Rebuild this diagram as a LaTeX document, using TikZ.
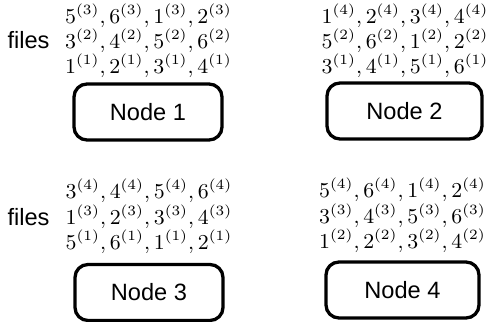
\documentclass[tikz,border=0pt]{standalone}
\usepackage{fontspec}
\newfontfamily\hv{Liberation Sans}
\begin{document}
\begin{tikzpicture}[x=0.4237pt,y=-0.4237pt,
  nodebox/.style={draw,line width=1.4pt,rounded corners=5.5pt,minimum width=#1*0.4237pt,minimum height=56*0.4237pt,font=\hv,inner sep=0pt},
  row/.style={anchor=base,inner sep=0pt,font=\fontsize{9}{11}\selectfont},
  lbl/.style={anchor=base east,inner sep=0pt,font=\hv}]
\useasboundingbox (0,0) rectangle (488,322);
% Node 1
\node[nodebox=148] (n1) at (148,112) {Node 1};
\node[row] (r11) at (148.5,24) {$5^{(3)},6^{(3)},1^{(3)},2^{(3)}$};
\node[row] (r12) at (148.5,48.5) {$3^{(2)},4^{(2)},5^{(2)},6^{(2)}$};
\node[row] (r13) at (148.5,73.5) {$1^{(1)},2^{(1)},3^{(1)},4^{(1)}$};
\node[lbl] (f1) at (50,49) {files};
% Node 2
\node[nodebox=155] (n2) at (404.5,111) {Node 2};
\node[row] (r21) at (405,24) {$1^{(4)},2^{(4)},3^{(4)},4^{(4)}$};
\node[row] (r22) at (405,48.5) {$5^{(2)},6^{(2)},1^{(2)},2^{(2)}$};
\node[row] (r23) at (405,73.5) {$3^{(1)},4^{(1)},5^{(1)},6^{(1)}$};
% Node 3
\node[nodebox=148] (n3) at (149,292.5) {Node 3};
\node[row] (r31) at (149,199) {$3^{(4)},4^{(4)},5^{(4)},6^{(4)}$};
\node[row] (r32) at (149,225) {$1^{(3)},2^{(3)},3^{(3)},4^{(3)}$};
\node[row] (r33) at (149,250) {$5^{(1)},6^{(1)},1^{(1)},2^{(1)}$};
\node[lbl] (f3) at (50,226) {files};
% Node 4
\node[nodebox=153] (n4) at (402.5,290) {Node 4};
\node[row] (r41) at (402.5,198) {$5^{(4)},6^{(4)},1^{(4)},2^{(4)}$};
\node[row] (r42) at (402.5,224) {$3^{(3)},4^{(3)},5^{(3)},6^{(3)}$};
\node[row] (r43) at (402.5,249) {$1^{(2)},2^{(2)},3^{(2)},4^{(2)}$};
\end{tikzpicture}
\end{document}
